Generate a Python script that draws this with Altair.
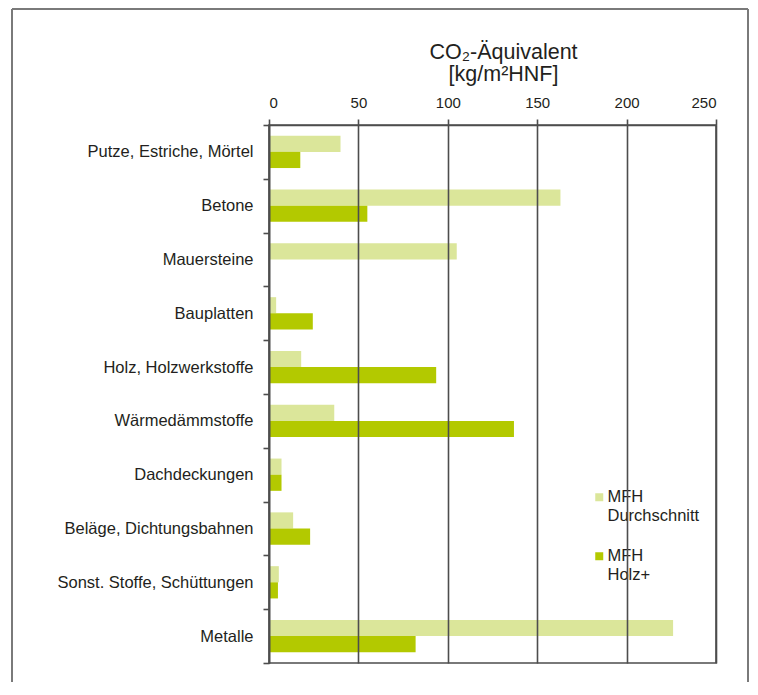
import altair as alt
import pandas as pd

categories = [
    "Putze, Estriche, Mörtel",
    "Betone",
    "Mauersteine",
    "Bauplatten",
    "Holz, Holzwerkstoffe",
    "Wärmedämmstoffe",
    "Dachdeckungen",
    "Beläge, Dichtungsbahnen",
    "Sonst. Stoffe, Schüttungen",
    "Metalle",
]
durchschnitt = [40, 163, 105, 4, 18, 36.5, 7, 13.5, 5.5, 226]
holz_plus = [17.5, 55, 0, 24.5, 93.5, 137, 7, 23, 5, 82]
series = ["MFH|Durchschnitt", "MFH|Holz+"]
x_ticks = [0, 50, 100, 150, 200, 250]
title_lines = ["CO₂-Äquivalent", "[kg/m²HNF]"]

rows = []
for c, a, b in zip(categories, durchschnitt, holz_plus):
    rows.append({"Kategorie": c, "Serie": series[0], "Wert": a})
    rows.append({"Kategorie": c, "Serie": series[1], "Wert": b})
df = pd.DataFrame(rows)

font = "Liberation Sans"
text_color = "#231f20"
line_color = "#4d4d4d"
frame_color = "#7a7a7a"
colors = ["#dbe69a", "#b3c900"]

bars = alt.Chart(df).mark_bar().encode(
    x=alt.X(
        "Wert:Q",
        scale=alt.Scale(domain=[0, 250], nice=False),
        axis=alt.Axis(
            orient="top", values=x_ticks, format="d", grid=True,
            gridColor=line_color, gridWidth=1.6, zindex=1,
            domainColor=line_color, domainWidth=1.6,
            tickColor=line_color, tickWidth=1.6, tickSize=6,
            labelFont=font, labelFontSize=15, labelColor=text_color, labelPadding=9,
            title=title_lines, titleFont=font, titleFontSize=21.5, titleFontWeight="normal",
            titleColor=text_color, titleLineHeight=22, titlePadding=10, titleX=234,
        ),
    ),
    y=alt.Y(
        "Kategorie:N", sort=categories,
        scale=alt.Scale(paddingInner=0, paddingOuter=0),
        axis=alt.Axis(
            title=None, tickBand="extent", tickSize=6, tickColor=line_color, tickWidth=1.6,
            domainColor=line_color, domainWidth=1.6, zindex=1, grid=False,
            labelFont=font, labelFontSize=16.5, labelColor=text_color, labelPadding=10,
            labelLimit=320,
        ),
    ),
    yOffset=alt.YOffset(
        "Serie:N", sort=series,
        scale=alt.Scale(paddingInner=0, paddingOuter=0.667),
    ),
    color=alt.Color(
        "Serie:N", sort=series,
        scale=alt.Scale(domain=series, range=colors),
        legend=alt.Legend(
            title=None, orient="none", legendX=312, legendY=354,
            symbolType="square", symbolSize=64, symbolStrokeWidth=0,
            labelExpr="split(datum.label, '|')", labelOffset=0,
            labelFont=font, labelFontSize=16.5, labelColor=text_color,
            fillColor="white", padding=10, rowPadding=23,
        ),
    ),
)

one = pd.DataFrame({"k": [0]})
frame_left = alt.Chart(one).mark_rule(color=frame_color, strokeWidth=2).encode(
    x=alt.value(-257), y=alt.value(-116), y2=alt.value(557)
)
frame_top = alt.Chart(one).mark_rule(color=frame_color, strokeWidth=2).encode(
    x=alt.value(-257), x2=alt.value(479), y=alt.value(-116)
)
frame_right = alt.Chart(one).mark_rule(color=frame_color, strokeWidth=2).encode(
    x=alt.value(479), y=alt.value(-116), y2=alt.value(557)
)

chart = alt.layer(bars, frame_left, frame_top, frame_right).properties(
    width=447, height=538,
    padding={"left": 3, "top": 0, "right": 0, "bottom": 0},
    background="white",
).configure_view(stroke=line_color, strokeWidth=1.6)

chart.save("out.html", embed_options={"renderer": "svg", "actions": False})
